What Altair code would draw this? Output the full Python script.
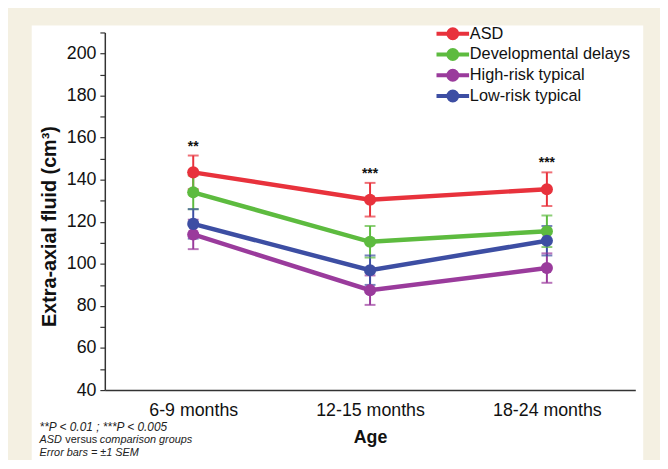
import altair as alt
import pandas as pd

ages = ["6-9 months", "12-15 months", "18-24 months"]
groups = ["ASD", "Developmental delays", "High-risk typical", "Low-risk typical"]
colors = ["#e8323c", "#5dbb3f", "#9a3b9c", "#3d4ea3"]

asd_mean = [143.5, 130.5, 135.5]
asd_sem = [8.0, 8.0, 8.0]
dd_mean = [134.0, 110.5, 115.5]
dd_sem = [8.0, 7.5, 7.5]
hrt_mean = [114.0, 87.5, 98.0]
hrt_sem = [7.0, 7.0, 7.0]
lrt_mean = [119.0, 97.0, 111.0]
lrt_sem = [7.0, 7.0, 7.0]

stars = ["**", "***", "***"]

means = [asd_mean, dd_mean, hrt_mean, lrt_mean]
sems = [asd_sem, dd_sem, hrt_sem, lrt_sem]

rows = []
for gi, g in enumerate(groups):
    for ai, a in enumerate(ages):
        m, s = means[gi][ai], sems[gi][ai]
        rows.append({"group": g, "age": a, "mean": m, "lo": m - s, "hi": m + s, "order": gi})
df = pd.DataFrame(rows)

caps = pd.concat([df.assign(cap=df["lo"]), df.assign(cap=df["hi"])])

star_df = pd.DataFrame({"age": ages, "top": [m + s for m, s in zip(asd_mean, asd_sem)], "label": stars})

W, H = 537, 362
FONT = "Liberation Sans"

xs = alt.Scale(type="point", domain=ages, padding=0.5)
ys = alt.Scale(domain=[40, 210], nice=False, zero=False)

x_axis = alt.Axis(title="Age", labelFontSize=18, labelAngle=0, ticks=False, zindex=2,
                  domainColor="#333333", domainWidth=1.5, labelColor="#111111",
                  titleFontSize=18, titleFontWeight="bold", titleColor="#111111",
                  labelPadding=12, titlePadding=9, labelFont=FONT, titleFont=FONT)
y_axis = alt.Axis(title="Extra-axial fluid (cm³)", values=list(range(40, 211, 10)), zindex=2,
                  labelExpr="(datum.value % 20 == 0 && datum.value <= 200) ? datum.label : ''",
                  grid=False, tickSize=5, tickColor="#333333", tickWidth=1.2,
                  domainColor="#333333", domainWidth=1.5, labelFontSize=18, labelPadding=4,
                  labelColor="#111111", titleFontSize=20, titleFontWeight="bold",
                  titleColor="#111111", titlePadding=7, titleY=196,
                  labelFont=FONT, titleFont=FONT)

sym_path = "M-4,0L4,0M-1.1,0A1.1,1.1 0 1 0 1.1,0A1.1,1.1 0 1 0 -1.1,0Z"
legend = alt.Legend(title=None, orient="none", legendX=344, legendY=-7,
                    symbolType=sym_path, symbolSize=68, symbolStrokeWidth=4,
                    symbolOpacity=1, labelLimit=400,
                    labelFontSize=16.5, labelFont=FONT, labelColor="#111111",
                    labelOffset=9, rowPadding=-5.5)
color = alt.Color("group:N", scale=alt.Scale(domain=groups, range=colors), legend=legend)

X = alt.X("age:N", scale=xs, axis=x_axis, sort=ages)

panel = alt.Chart(pd.DataFrame({"a": [0]})).mark_rect(color="white").encode(
    x=alt.value(-74), x2=alt.value(545), y=alt.value(-7), y2=alt.value(470))

stems = alt.Chart(df).mark_rule(strokeWidth=2).encode(
    x=X, y=alt.Y("lo:Q", scale=ys, axis=y_axis), y2="hi:Q", color=color)

capmarks = alt.Chart(caps).mark_tick(thickness=2, size=11, orient="horizontal").encode(
    x=X, y=alt.Y("cap:Q", scale=ys, axis=y_axis), color=color)

lines = alt.Chart(df).mark_line(strokeWidth=4.5).encode(
    x=X, y=alt.Y("mean:Q", scale=ys, axis=y_axis), color=color, detail="group:N",
    order="order:Q")

points = alt.Chart(df).mark_point(filled=True, opacity=1, size=150).encode(
    x=X, y=alt.Y("mean:Q", scale=ys, axis=y_axis), color=color)

star_text = alt.Chart(star_df).mark_text(dy=-9, fontSize=14, fontWeight="bold",
                                         color="#111111", font=FONT).encode(
    x=X, y=alt.Y("top:Q", scale=ys, axis=y_axis), text="label:N")

def note(txt, x, y, style="italic", size=11):
    return alt.Chart(pd.DataFrame({"t": [txt]})).mark_text(
        align="left", baseline="middle", fontSize=size, fontStyle=style,
        color="#222222", font=FONT).encode(x=alt.value(x), y=alt.value(y), text="t:N")

notes = [
    note("**P < 0.01 ; ***P < 0.005", -66, 399, size=12),
    note("ASD", -66, 413),
    note("versus", -40, 413, "normal"),
    note("comparison groups", -5, 413),
    note("Error bars = ±1 SEM", -66, 426),
]

chart = alt.layer(panel, stems, capmarks, lines, points, star_text, *notes).properties(
    width=W, height=H,
    autosize=alt.AutoSizeParams(type="none"),
    padding={"left": 98, "top": 22, "right": 25, "bottom": 68},
    background="#f4f0e2",
).configure_view(stroke=None)

chart.save("out.html", embed_options={"renderer": "svg", "actions": False})
